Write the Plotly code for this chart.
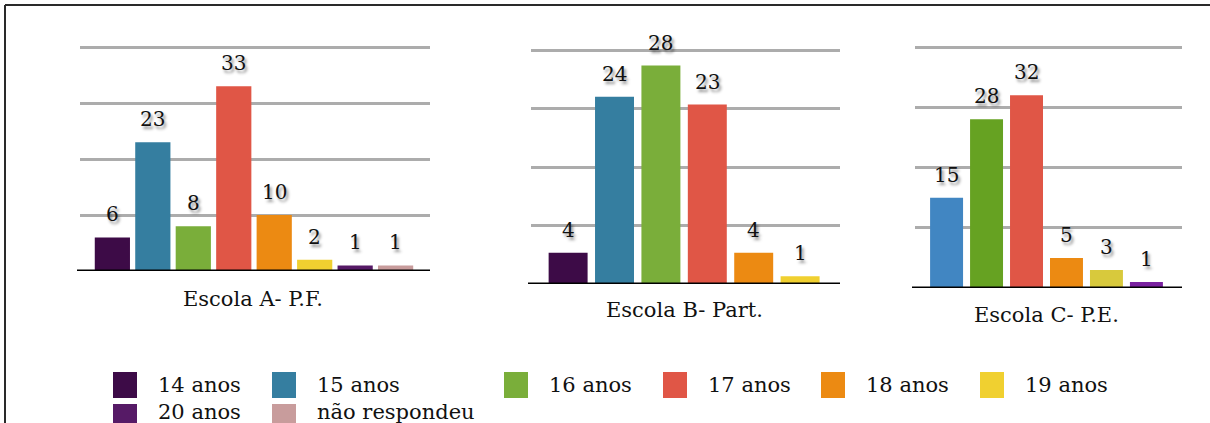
import plotly.graph_objects as go

W, H = 1210, 423

# ---- data -------------------------------------------------------------
ages = ["14 anos", "15 anos", "16 anos", "17 anos", "18 anos", "19 anos",
        "20 anos", "não respondeu"]
age_colors = ["#3d0b47", "#357ea0", "#7aae3a", "#e05646", "#ec8a12",
              "#f0d030", "#561a66", "#c89c9c"]

school_names = ["Escola A- P.F.", "Escola B- Part.", "Escola C- P.E."]

cats_a = ["14 anos", "15 anos", "16 anos", "17 anos", "18 anos", "19 anos",
          "20 anos", "não respondeu"]
vals_a = [6, 23, 8, 33, 10, 2, 1, 1]

cats_b = ["14 anos", "15 anos", "16 anos", "17 anos", "18 anos", "19 anos"]
vals_b = [4, 24, 28, 23, 4, 1]

cats_c = ["15 anos", "16 anos", "17 anos", "18 anos", "19 anos", "20 anos"]
vals_c = [15, 28, 32, 5, 3, 1]
# school C uses its own palette variant
colors_c = ["#4186c2", "#66a222", "#e05646", "#ec8a12", "#d8c93c", "#7a22a0"]

color_of = dict(zip(ages, age_colors))

SERIF = "DejaVu Serif"


def px_x(v):
    return v / W


def px_y(v):
    return 1 - v / H


# panel geometry (pixels): grid left/right, baseline left, baseline y, top y
panels = [
    dict(gx0=80, gx1=430, bx0=77, base=271, top=47, ymax=40, dtick=10,
         rng=[-0.80, 7.85], width=0.87, label_xy=(253, 299)),
    dict(gx0=531, gx1=840, bx0=528, base=284, top=50, ymax=30, dtick=7.5,
         rng=[-0.80, 5.86], width=0.84, label_xy=(684, 310)),
    dict(gx0=915, gx1=1182, bx0=912, base=288, top=47, ymax=40, dtick=10,
         rng=[-0.79, 5.89], width=0.825, label_xy=(1046, 315)),
]

series = [
    (cats_a, vals_a, [color_of[c] for c in cats_a]),
    (cats_b, vals_b, [color_of[c] for c in cats_b]),
    (cats_c, vals_c, colors_c),
]

fig = go.Figure()
annotations = []
shapes = []

label_font = dict(family=SERIF, size=20, color="#111111",
                  shadow="2px 3px 3px rgba(0,0,0,0.45)")

HEAD = 1.03  # headroom so the top gridline is not dropped at the edge

for i, (p, (cats, vals, cols)) in enumerate(zip(panels, series), start=1):
    xa = "x" if i == 1 else f"x{i}"
    ya = "y" if i == 1 else f"y{i}"
    fig.add_trace(go.Bar(
        x=cats, y=vals, xaxis=xa, yaxis=ya,
        marker=dict(color=cols, line=dict(width=0)),
        width=p["width"], showlegend=False, hoverinfo="x+y",
    ))
    top_val = p["ymax"] * HEAD
    top_px = p["base"] - (p["base"] - p["top"]) * HEAD
    fig.update_layout(**{
        f"xaxis{'' if i == 1 else i}": dict(
            domain=[px_x(p["gx0"]), px_x(p["gx1"])], anchor=ya,
            type="category", range=p["rng"], showgrid=False,
            showticklabels=False, ticks="", showline=False, zeroline=False,
            fixedrange=True),
        f"yaxis{'' if i == 1 else i}": dict(
            domain=[px_y(p["base"]), px_y(top_px)], anchor=xa,
            range=[0, top_val], dtick=p["dtick"], tick0=0,
            showgrid=True, gridcolor="#acacac", gridwidth=2.5,
            showticklabels=False, ticks="", showline=False, zeroline=False,
            fixedrange=True),
    })
    # value labels above each bar
    for c, v in zip(cats, vals):
        annotations.append(dict(
            x=c, y=v, xref=xa, yref=ya, text=str(v), showarrow=False,
            yanchor="middle", yshift=23, font=label_font))
    # baseline
    shapes.append(dict(type="line", xref="paper", yref=ya,
                       x0=px_x(p["bx0"]), x1=px_x(p["gx1"]), y0=0, y1=0,
                       line=dict(color="#000000", width=3), layer="above"))
    # school name under the panel
    lx, ly = p["label_xy"]
    annotations.append(dict(
        x=px_x(lx), y=px_y(ly), xref="paper", yref="paper",
        text=school_names[i - 1], showarrow=False,
        xanchor="center", yanchor="middle",
        font=dict(family=SERIF, size=21, color="#111111")))

# ---- legend (two rows) ----------------------------------------------
legend_cols = [113, 272, 504, 663, 821, 980]
legend_rows = [372, 404]
legend_text_y = [385, 412]
sw_w, sw_h = 24, 26
for k, (name, col) in enumerate(zip(ages, age_colors)):
    row, colidx = divmod(k, 6)
    x0 = legend_cols[colidx]
    y0 = legend_rows[row]
    shapes.append(dict(type="rect", xref="paper", yref="paper",
                       x0=px_x(x0), x1=px_x(x0 + sw_w),
                       y0=px_y(y0 + sw_h), y1=px_y(y0),
                       fillcolor=col, line=dict(width=0)))
    annotations.append(dict(
        x=px_x(x0 + 43), y=px_y(legend_text_y[row]), xref="paper",
        yref="paper", text=name, showarrow=False, xanchor="left",
        yanchor="middle",
        font=dict(family=SERIF, size=21, color="#111111")))

# ---- outer frame (left and top edges) --------------------------------
shapes.append(dict(type="line", xref="paper", yref="paper",
                   x0=px_x(5), x1=px_x(5), y0=0, y1=px_y(5),
                   line=dict(color="#2a2a2a", width=2)))
shapes.append(dict(type="line", xref="paper", yref="paper",
                   x0=px_x(5), x1=1, y0=px_y(5), y1=px_y(5),
                   line=dict(color="#2a2a2a", width=2)))

fig.update_layout(
    width=W, height=H, autosize=False,
    margin=dict(l=0, r=0, t=0, b=0),
    paper_bgcolor="white", plot_bgcolor="rgba(0,0,0,0)",
    bargap=0.1,
    annotations=annotations, shapes=shapes,
)

fig.write_html("out.html", config={"displayModeBar": False})
